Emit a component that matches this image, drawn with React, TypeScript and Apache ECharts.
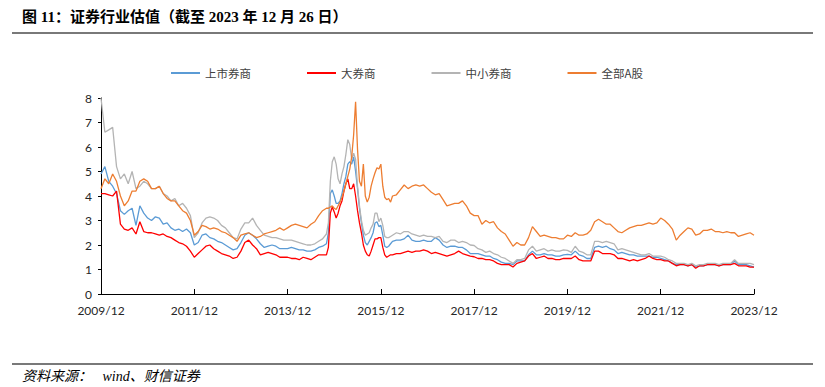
import React, { useEffect, useRef } from "react";
import * as echarts from "echarts";

// x positions: month offsets from 2009/12 (monthly, half-monthly during 2014/10–2016/03)
const xMonths: number[] = [];
for (let m = 0; m < 58; m++) xMonths.push(m);
for (let m = 58; m <= 75; m += 0.5) xMonths.push(m);
for (let m = 76; m <= 168; m++) xMonths.push(m);

const xTickLabels = ["2009/12", "2011/12", "2013/12", "2015/12", "2017/12", "2019/12", "2021/12", "2023/12"];
const yTicks = [0, 1, 2, 3, 4, 5, 6, 7, 8];
const seriesNames = ["上市券商", "大券商", "中小券商", "全部A股"];

// 上市券商
const listed = [
  4.9, 5.2, 4.6, 4.4, 4.1, 3.4, 3.25, 3.4, 3.5, 2.8,
  3.6, 3.3, 3.1, 3.0, 3.15, 3.1, 2.85, 2.9, 2.7, 2.6,
  2.65, 2.55, 2.65, 2.5, 2.0, 2.1, 2.4, 2.45, 2.3, 2.25,
  2.15, 2.1, 2.0, 1.9, 1.8, 1.85, 2.1, 2.4, 2.5, 2.4,
  2.25, 2.05, 1.9, 1.95, 2.0, 1.95, 1.85, 1.85, 1.85, 1.9,
  1.85, 1.8, 1.8, 1.75, 1.75, 1.8, 1.9, 1.95,
  2.05, 2.5, 4.1, 4.25, 4.0, 3.7, 3.7, 3.8, 4.1, 4.5,
  4.8, 5.3, 5.4, 5.3, 5.6, 5.0, 4.3, 3.5, 2.9, 2.4,
  2.1, 2.0, 2.15, 2.3, 2.5, 2.9, 2.95, 2.75, 2.8, 2.4,
  1.95, 1.9, 1.95, 2.05, 2.15,
  2.2, 2.2, 2.25, 2.4, 2.2, 2.15, 2.15, 2.2, 2.15, 2.15, 2.3, 2.2, 2.0, 1.9, 1.95, 1.95, 1.9, 1.9, 1.8, 1.65, 1.65,
  1.65, 1.6, 1.55, 1.55, 1.45, 1.4, 1.3, 1.25, 1.25, 1.2, 1.35, 1.35, 1.35, 1.6, 1.75, 1.6, 1.6, 1.65, 1.6, 1.6, 1.55, 1.55, 1.6, 1.62,
  1.6, 1.75, 1.6, 1.55, 1.45, 1.45, 1.9, 1.95, 1.9, 1.95, 1.85, 1.8, 1.65, 1.7, 1.65, 1.6, 1.6, 1.55, 1.55, 1.55,
  1.55, 1.5, 1.5, 1.45, 1.4, 1.35, 1.25, 1.2, 1.2, 1.2, 1.15, 1.2, 1.1, 1.15, 1.15, 1.2, 1.2, 1.2, 1.15, 1.2,
  1.2, 1.2, 1.35, 1.2, 1.2, 1.2, 1.15, 1.1,
];

// 大券商
const large = [
  4.1, 4.1, 4.05, 4.0, 4.2, 2.85, 2.65, 2.6, 2.7, 2.45,
  2.95, 2.55, 2.5, 2.5, 2.45, 2.4, 2.45, 2.35, 2.3, 2.2,
  2.1, 2.05, 1.95, 1.75, 1.5, 1.65, 1.8, 1.95, 2.0, 1.85,
  1.75, 1.65, 1.6, 1.55, 1.45, 1.5, 1.75, 2.1, 2.2, 2.0,
  1.85, 1.6, 1.65, 1.7, 1.65, 1.6, 1.5, 1.5, 1.5, 1.45,
  1.45, 1.4, 1.5, 1.45, 1.4, 1.5, 1.6, 1.6,
  1.6, 1.9, 3.3, 3.55, 3.35, 3.1, 3.3, 3.6, 3.8, 4.2,
  4.5, 4.7, 4.3, 4.3, 4.5, 4.0, 3.4, 2.9, 2.5, 2.0,
  1.75, 1.6, 1.55, 1.75, 2.0, 2.25, 2.25, 2.3, 2.3, 1.9,
  1.6, 1.5, 1.55, 1.6, 1.6,
  1.65, 1.65, 1.7, 1.75, 1.7, 1.75, 1.75, 1.8, 1.75, 1.65, 1.7, 1.65, 1.6, 1.55, 1.6, 1.65, 1.75, 1.65, 1.6, 1.55, 1.52,
  1.45, 1.45, 1.4, 1.4, 1.35, 1.25, 1.2, 1.2, 1.2, 1.1, 1.25, 1.3, 1.35, 1.55, 1.65, 1.45, 1.5, 1.55, 1.45, 1.45, 1.4, 1.4, 1.45, 1.45,
  1.45, 1.55, 1.4, 1.35, 1.35, 1.35, 1.75, 1.75, 1.65, 1.65, 1.65, 1.6, 1.45, 1.45, 1.4, 1.35, 1.4, 1.35, 1.4, 1.45,
  1.55, 1.45, 1.4, 1.4, 1.35, 1.35, 1.25, 1.15, 1.2, 1.2, 1.15, 1.2, 1.05, 1.15, 1.15, 1.2, 1.2, 1.2, 1.15, 1.2,
  1.2, 1.2, 1.25, 1.15, 1.15, 1.15, 1.1, 1.1,
];

// 中小券商
const small = [
  8.0, 6.6, 6.7, 6.8, 5.2, 4.7, 4.9, 4.5, 5.0, 4.3,
  4.4, 4.6, 4.5, 4.3, 4.3, 4.4, 4.1, 4.0, 3.8, 3.9,
  3.6, 3.7, 3.5, 3.2, 2.3, 2.5, 2.9, 3.1, 3.15, 3.1,
  3.0, 2.8, 2.7, 2.5, 2.3, 2.25, 2.65, 2.9, 2.9, 3.1,
  2.8, 2.6, 2.4, 2.35, 2.3, 2.3, 2.25, 2.2, 2.2, 2.2,
  2.15, 2.1, 2.05, 2.0, 2.0, 2.05, 2.15, 2.25,
  2.45, 2.9, 4.6, 5.4, 5.6, 5.3, 4.7, 4.5, 4.9, 5.2,
  5.7, 6.3, 6.1, 5.5, 5.75, 5.5, 4.4, 3.6, 3.0, 2.6,
  2.4, 2.45, 2.5, 2.7, 2.85, 3.3, 3.3, 2.95, 3.1, 2.8,
  2.35, 2.3, 2.3, 2.35, 2.4,
  2.5, 2.45, 2.55, 2.55, 2.45, 2.4, 2.35, 2.4, 2.35, 2.35, 2.3, 2.35, 2.15, 2.1, 2.2, 2.2, 2.1, 2.15, 2.1, 2.0, 1.98,
  1.85, 1.8, 1.7, 1.75, 1.65, 1.6, 1.5, 1.45, 1.35, 1.25, 1.4, 1.4, 1.45, 1.8, 1.95, 1.75, 1.8, 1.85, 1.75, 1.8, 1.75, 1.75, 1.8, 1.78,
  1.7, 1.95, 1.75, 1.7, 1.6, 1.6, 2.15, 2.15, 2.1, 2.15, 2.1, 2.05, 1.8, 1.85, 1.8, 1.75, 1.7, 1.65, 1.6, 1.6,
  1.65, 1.55, 1.55, 1.55, 1.5, 1.4, 1.35, 1.25, 1.25, 1.25, 1.2, 1.25, 1.15, 1.2, 1.2, 1.25, 1.25, 1.25, 1.2, 1.25,
  1.25, 1.25, 1.4, 1.25, 1.25, 1.25, 1.25, 1.2,
];

// 全部A股
const allA = [
  4.3, 4.7, 4.5, 4.9, 4.6, 4.0, 3.6, 3.8, 4.2, 4.2,
  4.6, 4.7, 4.6, 4.3, 4.3, 4.4, 4.1, 3.9, 3.8, 3.8,
  3.6, 3.4, 3.3, 3.0, 2.4, 2.55, 2.8, 2.75, 2.65, 2.7,
  2.65, 2.55, 2.5, 2.4, 2.3, 2.15, 2.4, 2.45, 2.5, 2.4,
  2.3, 2.35, 2.45, 2.5, 2.55, 2.6, 2.7, 2.6, 2.7, 2.8,
  2.85, 2.8, 2.75, 2.7, 2.85, 2.95, 3.2, 3.4,
  3.5, 3.5, 3.55, 3.6, 3.5, 3.45, 3.6, 3.75, 3.95, 4.2,
  4.5, 4.8, 5.1, 5.6, 6.5, 7.85, 5.9, 4.6, 4.4, 5.3,
  4.0, 3.75, 3.95, 4.4, 4.7, 4.95, 5.15, 5.1, 5.3, 4.4,
  3.95, 3.85, 3.9, 3.75, 4.0,
  4.05, 4.25, 4.45, 4.3, 4.4, 4.45, 4.4, 4.45, 4.3, 4.15, 4.05, 4.1, 3.85, 3.6, 3.65, 3.7, 3.7, 3.8, 3.6, 3.3, 3.2,
  3.2, 2.85, 3.0, 2.9, 2.95, 2.7, 2.55, 2.45, 2.2, 1.95, 2.1, 2.0, 2.0, 2.3, 2.75, 2.55, 2.35, 2.4, 2.35, 2.3, 2.3, 2.25, 2.25, 2.4,
  2.35, 2.5, 2.4, 2.4, 2.45, 2.6, 2.95, 3.05, 2.95, 2.85, 2.85, 2.7, 2.55, 2.5, 2.6, 2.7, 2.75, 2.8, 2.8, 2.85,
  2.9, 2.85, 2.9, 3.1, 3.0, 2.85, 2.65, 2.2, 2.4, 2.55, 2.7, 2.65, 2.4, 2.45, 2.6, 2.6, 2.65, 2.55, 2.55, 2.5,
  2.55, 2.5, 2.5, 2.35, 2.4, 2.45, 2.5, 2.4,
];

const seriesValues = [listed, large, small, allA];
const seriesColors = ["#5B9BD5", "#FF0000", "#B4B4B4", "#ED7D31"];

const titleText = "图 11：证券行业估值（截至 2023 年 12 月 26 日）";
const sourceText = "资料来源：   wind、财信证券";

const App = () => {
  const ref = useRef<HTMLDivElement>(null);
  useEffect(() => {
    document.body.style.margin = "0";
    const chart = echarts.init(ref.current!, null, { renderer: "svg" });
    chart.setOption({
      animation: false,
      backgroundColor: "#ffffff",
      grid: { left: 101, top: 98, width: 653, height: 196, containLabel: false },
      legend: {
        left: 166,
        top: 61,
        itemGap: 56,
        itemWidth: 29,
        itemHeight: 2,
        icon: "rect",
        textStyle: { fontSize: 11.5, color: "#404040", fontFamily: "Noto Sans CJK SC", lineHeight: 14 },
        data: seriesNames,
      },
      xAxis: {
        type: "value",
        min: 0,
        max: 168,
        interval: 24,
        splitLine: { show: false },
        axisLine: { lineStyle: { color: "#000000", width: 1 } },
        axisTick: { inside: true, length: 5, lineStyle: { color: "#000000" } },
        axisLabel: {
          margin: 10,
          fontSize: 12,
          color: "#262626",
          fontFamily: "Lato",
          showMinLabel: true,
          showMaxLabel: true,
          formatter: (v: number) => xTickLabels[Math.round(v / 24)] ?? "",
        },
      },
      yAxis: {
        type: "value",
        min: yTicks[0],
        max: yTicks[yTicks.length - 1],
        interval: 1,
        splitLine: { show: false },
        axisLine: { show: true, lineStyle: { color: "#000000", width: 1 } },
        axisTick: { show: true, inside: false, length: 3, lineStyle: { color: "#000000" } },
        axisLabel: { margin: 9, fontSize: 12, color: "#262626", fontFamily: "Lato" },
      },
      series: seriesNames.map((name, k) => ({
        name,
        type: "line",
        symbol: "none",
        showSymbol: false,
        color: seriesColors[k],
        lineStyle: { color: seriesColors[k], width: 1.3 },
        data: xMonths.map((m, i) => [m, seriesValues[k][i]]),
        z: 2 + k,
      })),
      graphic: [
        {
          type: "text",
          left: 22,
          top: 9,
          style: {
            text: titleText,
            fontSize: 15,
            fontWeight: "bold",
            fill: "#000000",
            fontFamily: "Liberation Serif, Noto Sans CJK SC",
          },
        },
        {
          type: "line",
          shape: { x1: 12, y1: 33, x2: 813, y2: 33 },
          style: { stroke: "#4d4d4d", lineWidth: 1.5 },
        },
        {
          type: "line",
          shape: { x1: 12, y1: 364, x2: 813, y2: 364 },
          style: { stroke: "#4d4d4d", lineWidth: 1.5 },
        },
        {
          type: "text",
          left: 22,
          top: 369,
          style: {
            text: sourceText,
            fontSize: 14,
            fontStyle: "italic",
            fill: "#000000",
            fontFamily: "Liberation Serif, Noto Sans CJK SC",
          },
        },
      ],
    });
    return () => chart.dispose();
  }, []);
  return <div ref={ref} style={{ width: 825, height: 387 }} />;
};

export default App;
